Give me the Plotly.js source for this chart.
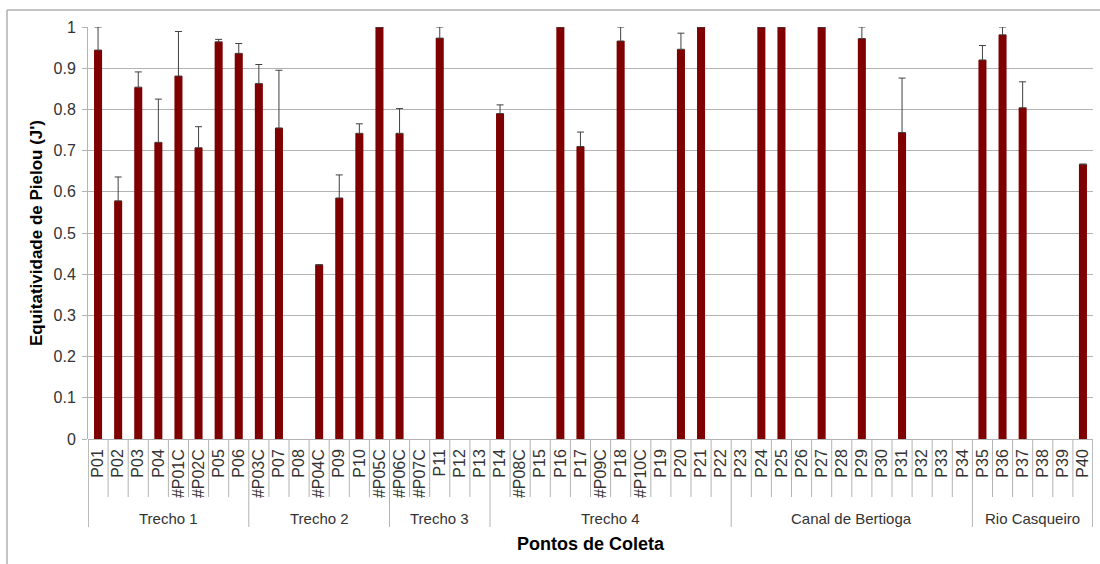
<!DOCTYPE html>
<html>
<head>
<meta charset="utf-8">
<script src="https://cdn.plot.ly/plotly-3.0.1.min.js"></script>
<style>
  html, body { margin: 0; padding: 0; background: #fff; }
  #chart { width: 1100px; height: 564px; }
</style>
</head>
<body>
<div id="chart"></div>
<script>
// Sampling points, in order along the x axis
const pontos = [
  'P01', 'P02', 'P03', 'P04', '#P01C', '#P02C', 'P05', 'P06',
  '#P03C', 'P07', 'P08', '#P04C', 'P09', 'P10', '#P05C',
  '#P06C', '#P07C', 'P11', 'P12', 'P13',
  'P14', '#P08C', 'P15', 'P16', 'P17', '#P09C', 'P18', '#P10C', 'P19', 'P20', 'P21', 'P22',
  'P23', 'P24', 'P25', 'P26', 'P27', 'P28', 'P29', 'P30', 'P31', 'P32', 'P33', 'P34',
  'P35', 'P36', 'P37', 'P38', 'P39', 'P40'
];

// Regions and how many points each one holds
const grupos = ['Trecho 1', 'Trecho 2', 'Trecho 3', 'Trecho 4', 'Canal de Bertioga', 'Rio Casqueiro'];
const pontosPorGrupo = [8, 7, 5, 12, 12, 6];

// Pielou evenness (J') per point; null where no value was obtained
const equitatividade = [
  0.944, 0.578, 0.854, 0.720, 0.881, 0.707, 0.964, 0.936,
  0.863, 0.755, null, 0.423, 0.585, 0.742, 1.000,
  0.742, null, 0.973, null, null,
  0.790, null, null, 1.000, 0.710, null, 0.966, null, null, 0.946, 1.000, null,
  null, 1.000, 1.000, null, 1.000, null, 0.972, null, 0.744, null, null, null,
  0.920, 0.981, 0.804, null, null, 0.667
];

// Standard deviation (upper error bar)
const desvio = [
  0.056, 0.058, 0.037, 0.105, 0.108, 0.051, 0.006, 0.024,
  0.046, 0.140, null, 0, 0.056, 0.023, 0,
  0.060, null, 0.027, null, null,
  0.021, null, null, 0, 0.035, null, 0.034, null, null, 0.039, 0, null,
  null, 0, 0, null, 0, null, 0.028, null, 0.132, null, null, null,
  0.035, 0.019, 0.063, null, null, 0
];

const FONT = 'Liberation Sans, Arial, sans-serif';
const GRID = '#b3b3b3';

// Separators under the category axis: short ones between points,
// long ones at the region boundaries
const Y_TICK_END = -0.1408;
const Y_GROUP_END = -0.2136;
const shapes = [];
const limites = [0];
pontosPorGrupo.forEach(n => limites.push(limites[limites.length - 1] + n));
for (let i = 0; i <= pontos.length; i++) {
  const isGroupEdge = limites.includes(i);
  const nudge = (i === 0 ? 0.02 : 0) - (i === pontos.length ? 0.02 : 0);
  shapes.push({
    type: 'line', xref: 'x', yref: 'paper',
    x0: i - 0.5 + nudge,
    x1: i - 0.5 + nudge,
    y0: 0, y1: isGroupEdge ? Y_GROUP_END : Y_TICK_END,
    line: { color: GRID, width: 1 }
  });
}

// Frame lines around the chart area
shapes.push({
  type: 'line', xref: 'paper', yref: 'paper',
  x0: -0.0806, x1: 1.01, y0: 1.0413, y1: 1.0413,
  line: { color: '#b0b0b0', width: 1.5 }
});
shapes.push({
  type: 'line', xref: 'paper', yref: 'paper',
  x0: -0.0806, x1: -0.0806, y0: 1.0413, y1: -0.32,
  line: { color: '#b0b0b0', width: 1.5 }
});

// Region names centred under their points
const annotations = grupos.map((g, k) => ({
  text: g,
  xref: 'x', yref: 'paper',
  x: (limites[k] + limites[k + 1] - 1) / 2,
  y: -0.192,
  xanchor: 'center', yanchor: 'middle',
  showarrow: false,
  font: { family: FONT, size: 15, color: '#333333' }
}));

const trace = {
  type: 'bar',
  x: pontos,
  y: equitatividade,
  marker: { color: '#7f0000', line: { width: 0 } },
  error_y: {
    type: 'data',
    array: desvio,
    symmetric: false,
    arrayminus: desvio.map(() => 0),
    color: '#404040',
    thickness: 1,
    width: 3.5
  },
  hoverinfo: 'x+y'
};

const layout = {
  width: 1100,
  height: 564,
  margin: { l: 88, r: 7, t: 27, b: 125 },
  paper_bgcolor: '#ffffff',
  plot_bgcolor: '#ffffff',
  showlegend: false,
  bargap: 0.6,
  font: { family: FONT, color: '#333333' },
  xaxis: {
    type: 'category',
    range: [-0.5, pontos.length - 0.5],
    tickangle: -90,
    ticks: '',
    ticklabelstandoff: 6,
    tickfont: { family: FONT, size: 16, color: '#333333' },
    showgrid: false,
    showline: false,
    zeroline: false,
    title: {
      text: '<b>Pontos de Coleta</b>',
      font: { family: FONT, size: 18, color: '#000000' },
      standoff: 40
    },
    automargin: false
  },
  yaxis: {
    range: [0, 1],
    dtick: 0.1,
    tick0: 0,
    ticks: 'outside',
    ticklen: 5,
    tickcolor: GRID,
    tickfont: { family: FONT, size: 16, color: '#333333' },
    ticklabelstandoff: 3,
    showgrid: true,
    gridcolor: GRID,
    gridwidth: 1,
    showline: true,
    linecolor: GRID,
    linewidth: 1,
    zeroline: true,
    zerolinecolor: GRID,
    zerolinewidth: 1,
    title: {
      text: "<b>Equitatividade de Pielou (J')</b>",
      font: { family: FONT, size: 17, color: '#000000' },
      standoff: 6
    },
    automargin: false
  },
  shapes: shapes,
  annotations: annotations
};

Plotly.newPlot('chart', [trace], layout, { displayModeBar: false, staticPlot: true });
</script>
</body>
</html>
